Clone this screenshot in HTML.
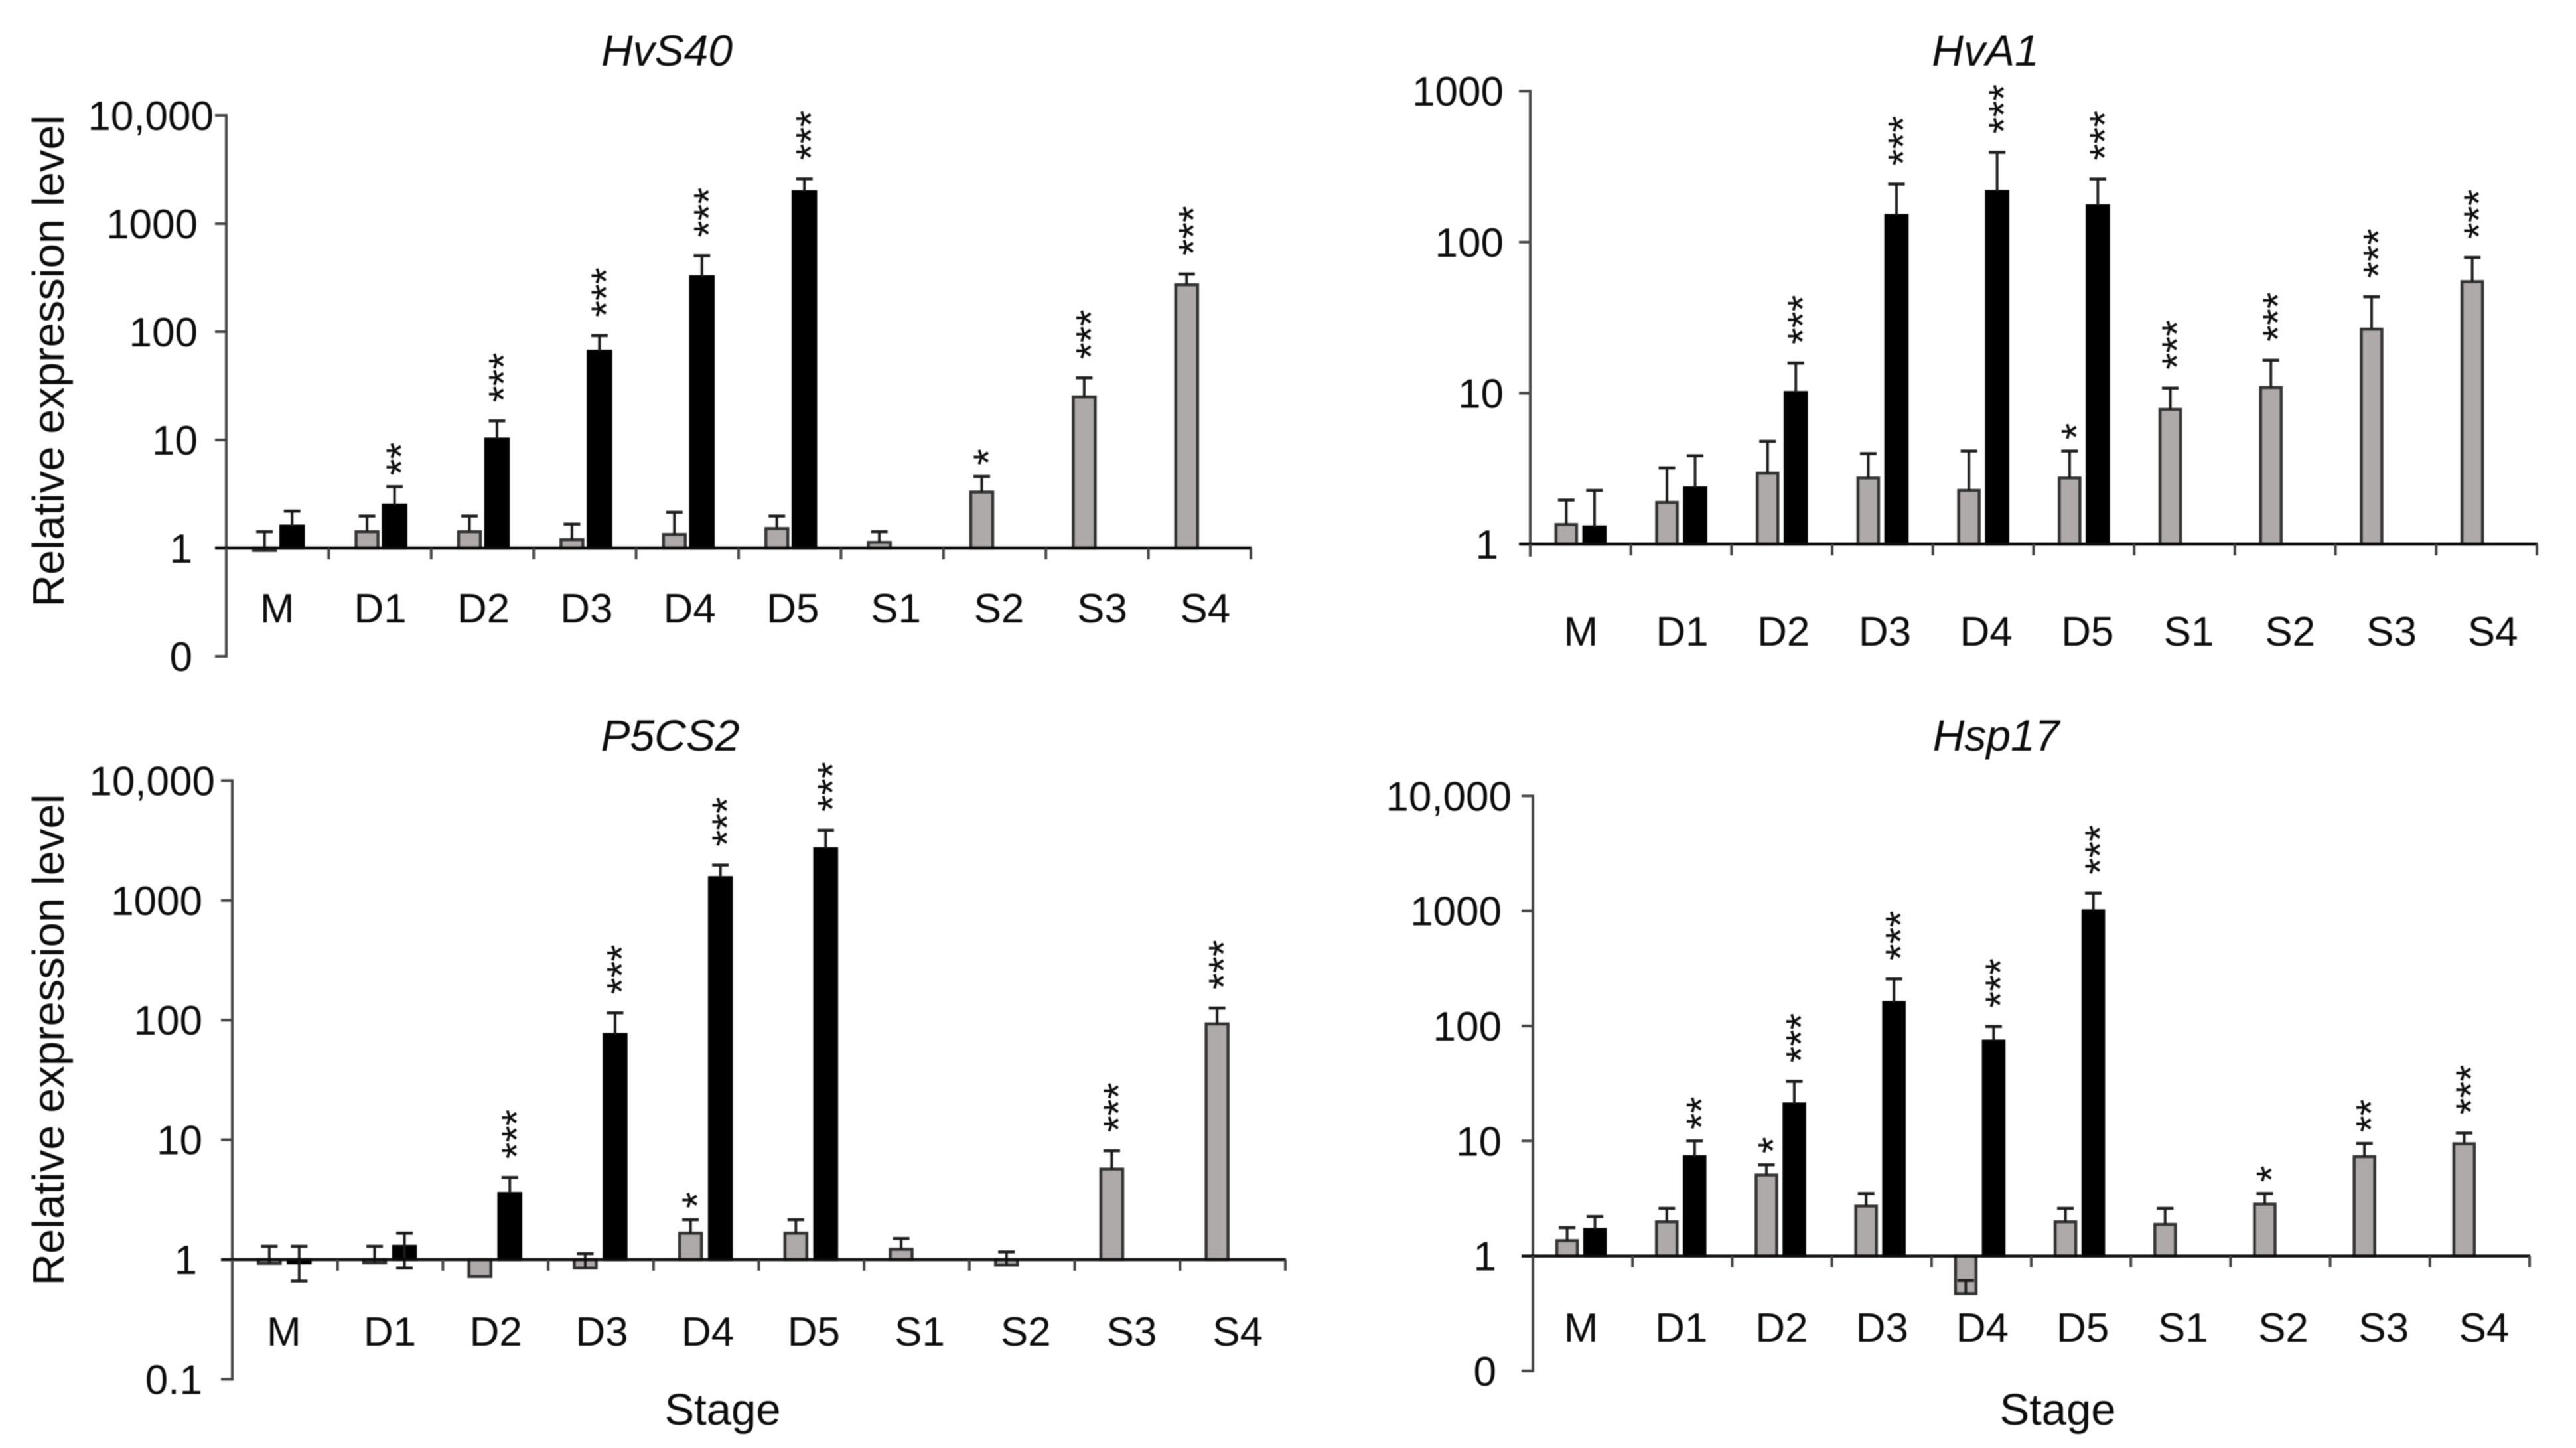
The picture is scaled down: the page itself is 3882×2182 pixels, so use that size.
<!DOCTYPE html>
<html lang="en">
<head>
<meta charset="utf-8">
<title>Relative expression of HvS40, HvA1, P5CS2 and Hsp17 by stage</title>
<style>
html,body{margin:0;padding:0;background:#fff;width:3882px;height:2182px;overflow:hidden}
svg{display:block;filter:blur(0.8px)}
text{font-family:"Liberation Sans",Arial,sans-serif;fill:#0c0c0c}
</style>
</head>
<body>
<svg id="figure" xmlns="http://www.w3.org/2000/svg" width="3882" height="2182" viewBox="0 0 3882 2182">
  <rect x="0" y="0" width="3882" height="2182" fill="#fff"/>
  <g id="panel-hvs40">
    <text x="1005" y="99" font-size="66" font-style="italic" text-anchor="middle">HvS40</text>
    <text transform="translate(96 544) rotate(-90)" font-size="67" text-anchor="middle">Relative expression level</text>
  </g>
  <g id="panel-hva1">
    <text x="2992" y="99" font-size="66" font-style="italic" text-anchor="middle">HvA1</text>
  </g>
  <g id="panel-p5cs2">
    <text x="1010" y="1131" font-size="66" font-style="italic" text-anchor="middle">P5CS2</text>
    <text transform="translate(96 1567) rotate(-90)" font-size="67" text-anchor="middle">Relative expression level</text>
    <text x="1089" y="2147" font-size="67" text-anchor="middle">Stage</text>
  </g>
  <g id="panel-hsp17">
    <text x="3008" y="1131" font-size="66" font-style="italic" text-anchor="middle">Hsp17</text>
    <text x="3101" y="2147" font-size="67" text-anchor="middle">Stage</text>
  </g>
</svg>
<script>
const categories = ['M','D1','D2','D3','D4','D5','S1','S2','S3','S4'];

const hvs40TickValues = [10000,1000,100,10,1,0.1];
const hvs40TickLabels = ['10,000','1000','100','10','1','0'];
const hvs40Gray = [0.95,1.42,1.42,1.2,1.34,1.52,1.13,3.3,25,272];
const hvs40GrayErr = [1.42,1.98,1.98,1.67,2.15,1.98,1.42,4.6,37.6,342];
const hvs40Black = [1.6,2.5,10.2,66,323,1970,null,null,null,null];
const hvs40BlackErr = [2.2,3.7,15,92,505,2600,null,null,null,null];
const hvs40BlackLow = [null,null,null,null,null,null,null,null,null,null];
const hvs40GraySig = ['','','','','','','','*','***','***'];
const hvs40BlackSig = ['','**','***','***','***','***','','','',''];

const hva1TickValues = [1000,100,10,1];
const hva1TickLabels = ['1000','100','10','1'];
const hva1Gray = [1.35,1.89,2.95,2.74,2.27,2.74,7.8,10.9,26.5,54.7];
const hva1GrayErr = [1.96,3.2,4.8,3.98,4.14,4.14,10.8,16.5,43.5,79];
const hva1Black = [1.3,2.36,10.1,150,216,174,null,null,null,null];
const hva1BlackErr = [2.27,3.85,15.8,242,393,262,null,null,null,null];
const hva1BlackLow = [null,null,null,null,null,null,null,null,null,null];
const hva1GraySig = ['','','','','','*','***','***','***','***'];
const hva1BlackSig = ['','','***','***','***','***','','','',''];

const p5cs2TickValues = [10000,1000,100,10,1,0.1];
const p5cs2TickLabels = ['10,000','1000','100','10','1','0.1'];
const p5cs2Gray = [0.93,0.94,0.72,0.85,1.66,1.66,1.22,0.9,5.7,93];
const p5cs2GrayErr = [1.29,1.29,null,1.12,2.15,2.15,1.5,1.16,8.1,126];
const p5cs2Black = [0.94,1.29,3.57,76,1550,2700,null,null,null,null];
const p5cs2BlackErr = [1.29,1.66,4.85,115,1970,3860,null,null,null,null];
const p5cs2BlackLow = [0.66,0.85,null,null,null,null,null,null,null,null];
const p5cs2GraySig = ['','','','','*','','','','***','***'];
const p5cs2BlackSig = ['','','***','***','***','***','','','',''];

const hsp17TickValues = [10000,1000,100,10,1,0.1];
const hsp17TickLabels = ['10,000','1000','100','10','1','0'];
const hsp17Gray = [1.36,1.98,5.06,2.71,0.47,1.98,1.88,2.82,7.3,9.44];
const hsp17GrayErr = [1.76,2.59,6.2,3.5,0.61,2.59,2.59,3.5,9.5,11.7];
const hsp17Black = [1.7,7.3,21,160,74,1000,null,null,null,null];
const hsp17BlackErr = [2.2,10,33,256,99,1430,null,null,null,null];
const hsp17BlackLow = [null,null,null,null,null,null,null,null,null,null];
const hsp17GraySig = ['','','*','','','','','*','**','***'];
const hsp17BlackSig = ['','**','***','***','***','***','','','',''];

const NS = 'http://www.w3.org/2000/svg';

function make(parent, tag, attrs, content) {
  const el = document.createElementNS(NS, tag);
  for (const key in attrs) el.setAttribute(key, attrs[key]);
  if (content !== undefined) el.textContent = content;
  parent.appendChild(el);
  return el;
}

function drawPanel(cfg) {
  const root = document.getElementById(cfg.id);
  const slot = (cfg.x1 - cfg.x0) / categories.length;
  const xCenter = i => cfg.x0 + slot * (i + 0.5);
  const yScale = v => cfg.y1 - Math.log10(v) * cfg.decade;
  const yTop = yScale(cfg.tickValues[0]);
  const yBottom = cfg.hasBottom ? yScale(cfg.tickValues[cfg.tickValues.length - 1]) : cfg.y1 + 17;

  function errorMark(cx, from, to, key, stage) {
    const stem = make(root, 'line', {x1: cx, x2: cx, y1: yScale(from), y2: yScale(to), stroke: '#1c1c1c', 'stroke-width': 4});
    
    
    const cap = make(root, 'line', {x1: cx - 12.5, x2: cx + 12.5, y1: yScale(to), y2: yScale(to), stroke: '#1c1c1c', 'stroke-width': 4.5});
    
    
  }

  function drawSeries(values, errs, lows, sigs, left, right, fill, stroke, key) {
    values.forEach((v, i) => {
      if (v === null) return;
      const stage = categories[i];
      const cx = xCenter(i);
      const yv = yScale(v);
      const barTop = Math.min(yv, cfg.y1);
      const barHeight = Math.abs(yv - cfg.y1);
      const bar = make(root, 'rect', {x: cx + left + 2, y: barTop, width: right - left - 4, height: barHeight, fill: fill, stroke: stroke, 'stroke-width': 4.5});
      
      
      const mid = cx + (left + right) / 2;
      if (errs[i] !== null) errorMark(mid, v, errs[i], key, stage);
      if (lows[i] !== null) errorMark(mid, v, lows[i], key + '-lower', stage);
      if (sigs[i]) {
        const anchor = errs[i] !== null ? yScale(errs[i]) : barTop;
        const gap = sigs[i].length === 3 ? 28 : 17;
        const sig = make(root, 'text', {transform: 'translate(' + (mid + 32) + ' ' + (anchor - gap) + ') rotate(-90)', 'font-size': 64}, sigs[i]);
        
        
      }
    });
  }

  drawSeries(cfg.gray, cfg.grayErr, cfg.gray.map(() => null), cfg.graySig, cfg.grayL, cfg.grayR, '#aeaaa9', '#333', cfg.key + '-gray');
  drawSeries(cfg.black, cfg.blackErr, cfg.blackLow, cfg.blackSig, cfg.blackL, cfg.blackR, '#000', '#000', cfg.key + '-black');

  const yAxis = make(root, 'line', {x1: cfg.x0, x2: cfg.x0, y1: yTop - 2, y2: yBottom + 2, stroke: '#444', 'stroke-width': 4});
  
  

  cfg.tickValues.forEach((v, i) => {
    const y = yScale(v);
    const tick = make(root, 'line', {x1: cfg.x0 - 17, x2: cfg.x0, y1: y, y2: y, stroke: '#444', 'stroke-width': 4});
    
    
    const text = cfg.tickLabels[i];
    let right = cfg.labelRight;
    if (text.indexOf(',') >= 0) right = cfg.wideRight;
    if (text.length === 1) right -= 8;
    const label = make(root, 'text', {x: right, y: y + 22, 'font-size': 62, 'text-anchor': 'end'}, text);
    
    
  });

  const xAxis = make(root, 'line', {x1: cfg.x0 - 17, x2: cfg.x1 + 1, y1: cfg.y1, y2: cfg.y1, stroke: '#0c0c0c', 'stroke-width': 4.5});
  
  

  for (let i = 0; i <= categories.length; i++) {
    const x = cfg.x0 + slot * i;
    const tick = make(root, 'line', {x1: x, x2: x, y1: cfg.y1, y2: cfg.y1 + 17, stroke: '#444', 'stroke-width': 4});
    
    
  }

  categories.forEach((c, i) => {
    const label = make(root, 'text', {x: xCenter(i) + cfg.labelDx + (i - 4.5) * 1, y: cfg.labelY, 'font-size': 62, 'text-anchor': 'middle'}, c);
    
    
  });
}

drawPanel({id:'panel-hvs40', key:'hvs40', x0:341, x1:1885, y1:826, decade:163, hasBottom:true,
  grayL:-38, grayR:-1, blackL:3, blackR:41, labelY:938, labelDx:4, labelRight:298, wideRight:322,
  tickValues:hvs40TickValues, tickLabels:hvs40TickLabels, gray:hvs40Gray, grayErr:hvs40GrayErr,
  black:hvs40Black, blackErr:hvs40BlackErr, blackLow:hvs40BlackLow, graySig:hvs40GraySig, blackSig:hvs40BlackSig});

drawPanel({id:'panel-hva1', key:'hva1', x0:2306, x1:3823, y1:820, decade:227.6, hasBottom:false,
  grayL:-39, grayR:-4, blackL:3, blackR:39, labelY:973, labelDx:5, labelRight:2266, wideRight:2266,
  tickValues:hva1TickValues, tickLabels:hva1TickLabels, gray:hva1Gray, grayErr:hva1GrayErr,
  black:hva1Black, blackErr:hva1BlackErr, blackLow:hva1BlackLow, graySig:hva1GraySig, blackSig:hva1BlackSig});

drawPanel({id:'panel-p5cs2', key:'p5cs2', x0:350, x1:1937, y1:1898, decade:180.4, hasBottom:true,
  grayL:-42, grayR:-5, blackL:3, blackR:40, labelY:2028, labelDx:3, labelRight:305, wideRight:324,
  tickValues:p5cs2TickValues, tickLabels:p5cs2TickLabels, gray:p5cs2Gray, grayErr:p5cs2GrayErr,
  black:p5cs2Black, blackErr:p5cs2BlackErr, blackLow:p5cs2BlackLow, graySig:p5cs2GraySig, blackSig:p5cs2BlackSig});

drawPanel({id:'panel-hsp17', key:'hsp17', x0:2310, x1:3812, y1:1892.6, decade:173.3, hasBottom:true,
  grayL:-41, grayR:-6, blackL:1, blackR:36, labelY:2022, labelDx:2, labelRight:2263, wideRight:2278,
  tickValues:hsp17TickValues, tickLabels:hsp17TickLabels, gray:hsp17Gray, grayErr:hsp17GrayErr,
  black:hsp17Black, blackErr:hsp17BlackErr, blackLow:hsp17BlackLow, graySig:hsp17GraySig, blackSig:hsp17BlackSig});
</script>
</body>
</html>
